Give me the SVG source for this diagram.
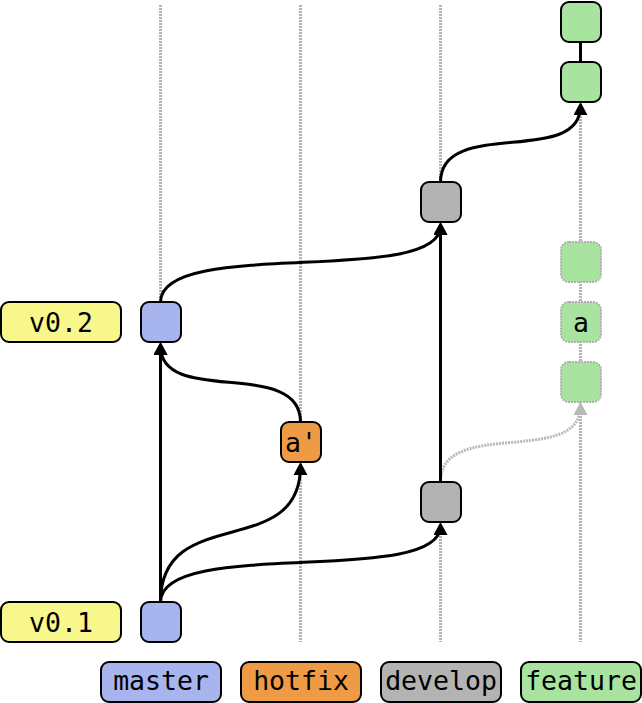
<svg xmlns="http://www.w3.org/2000/svg" width="642" height="703" viewBox="0 0 642 703">
<style>
.lane{stroke:#b3b3b3;stroke-width:3;stroke-dasharray:2 1;fill:none}
.n{stroke:#000;stroke-width:2}
.m{fill:#a8b4ee}.h{fill:#ef9a45}.d{fill:#b3b3b3}.f{fill:#a8e4a0}.y{fill:#f7f78b}
.ghost{fill:#a8e4a0;stroke:#b0b0b0;stroke-width:2;stroke-dasharray:2 1}
.e{stroke:#000;stroke-width:3;fill:none}
.g{stroke:#b8b8b8;stroke-width:3;fill:none;stroke-dasharray:2 1}
text{font-family:"DejaVu Sans Mono","Liberation Mono",monospace;font-size:26.5px;text-anchor:middle;fill:#000}
</style>
<defs>
<marker id="ab" viewBox="0 0 13 14" markerWidth="13" markerHeight="14" refX="9" refY="7" orient="auto" markerUnits="userSpaceOnUse"><path d="M0,0 L13,7 L0,14 z" fill="#000"/></marker>
<marker id="ag" viewBox="0 0 13 14" markerWidth="13" markerHeight="14" refX="9" refY="7" orient="auto" markerUnits="userSpaceOnUse"><path d="M0,0 L13,7 L0,14 z" fill="#b8b8b8"/></marker>
</defs>
<g id="lanes" transform="translate(-0.5,0)">
<line class="lane" x1="161" y1="5" x2="161" y2="642"/>
<line class="lane" x1="301" y1="5" x2="301" y2="642"/>
<line class="lane" x1="441" y1="5" x2="441" y2="642"/>
<line class="lane" x1="581" y1="5" x2="581" y2="642"/>
</g>
<g id="connectors" transform="translate(-0.5,0)">
<path class="g" d="M441,482 C441,417 581,467 581,406" marker-end="url(#ag)"/>
<path class="e" d="M161,602 L161,346" marker-end="url(#ab)"/>
<path class="e" d="M161,602 C161,502 301,562 301,466" marker-end="url(#ab)"/>
<path class="e" d="M161,602 C161,537 441,587 441,526" marker-end="url(#ab)"/>
<path class="e" d="M441,482 L441,226" marker-end="url(#ab)"/>
<path class="e" d="M301,422 C301,357 161,407 161,346" marker-end="url(#ab)"/>
<path class="e" d="M161,302 C161,237 441,287 441,226" marker-end="url(#ab)"/>
<path class="e" d="M441,182 C441,117 581,167 581,106" marker-end="url(#ab)"/>
<path class="e" d="M581,42 L581,62"/>
</g>
<g id="tag-v01"><rect class="n y" x="1" y="602" width="120" height="40" rx="8"/><text x="61" y="632">v0.1</text></g>
<g id="tag-v02"><rect class="n y" x="1" y="302" width="120" height="40" rx="8"/><text x="61" y="332">v0.2</text></g>
<g id="master-1"><rect class="n m" x="141" y="602" width="40" height="40" rx="8"/></g>
<g id="master-2"><rect class="n m" x="141" y="302" width="40" height="40" rx="8"/></g>
<g id="hotfix-1"><rect class="n h" x="281" y="422" width="40" height="40" rx="8"/><text x="301" y="452">a'</text></g>
<g id="develop-1"><rect class="n d" x="421" y="482" width="40" height="40" rx="8"/></g>
<g id="develop-2"><rect class="n d" x="421" y="182" width="40" height="40" rx="8"/></g>
<g id="feature-1"><rect class="n f" x="561" y="62" width="40" height="40" rx="8"/></g>
<g id="feature-2"><rect class="n f" x="561" y="2" width="40" height="40" rx="8"/></g>
<g id="ghost-1"><rect class="ghost" x="561" y="362" width="40" height="40" rx="8"/></g>
<g id="ghost-2"><rect class="ghost" x="561" y="302" width="40" height="40" rx="8"/><text x="581" y="332">a</text></g>
<g id="ghost-3"><rect class="ghost" x="561" y="242" width="40" height="40" rx="8"/></g>
<g id="label-master"><rect class="n m" x="101" y="662" width="120" height="40" rx="8"/><text x="161" y="690">master</text></g>
<g id="label-hotfix"><rect class="n h" x="241" y="662" width="120" height="40" rx="8"/><text x="301" y="690">hotfix</text></g>
<g id="label-develop"><rect class="n d" x="381" y="662" width="120" height="40" rx="8"/><text x="441" y="690">develop</text></g>
<g id="label-feature"><rect class="n f" x="521" y="662" width="120" height="40" rx="8"/><text x="581" y="690">feature</text></g>
</svg>
